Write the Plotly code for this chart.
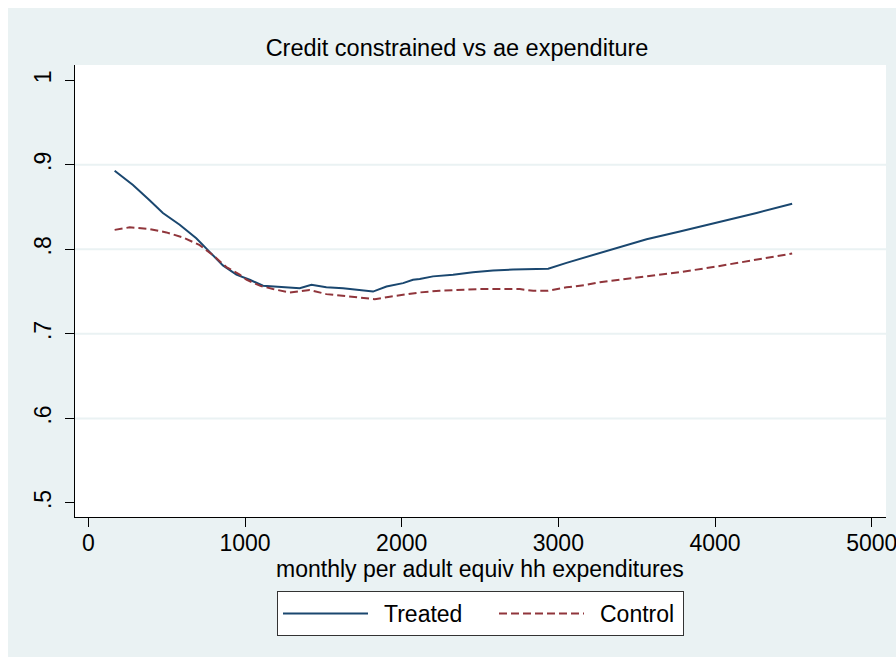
import plotly.graph_objects as go

# Smoothed share of credit-constrained households by monthly adult-equivalent expenditure
treated_x = [168, 285, 391, 476, 583, 689, 774, 859, 945, 1030, 1115, 1180, 1243, 1306,
             1349, 1424, 1519, 1626, 1711, 1817, 1903, 2009, 2072, 2115, 2200, 2328, 2455,
             2583, 2711, 2839, 2935, 3052, 3180, 3265, 3349, 3563, 3775, 4052, 4265, 4492]
treated_y = [0.893, 0.876, 0.858, 0.843, 0.829, 0.813, 0.797, 0.781, 0.770, 0.764, 0.757,
             0.756, 0.755, 0.754, 0.754, 0.758, 0.755, 0.754, 0.752, 0.750, 0.756, 0.760,
             0.764, 0.765, 0.768, 0.770, 0.773, 0.775, 0.776, 0.777, 0.777, 0.784, 0.791,
             0.796, 0.801, 0.812, 0.821, 0.833, 0.843, 0.854]

control_x = [168, 264, 391, 498, 604, 711, 796, 881, 966, 1009, 1094, 1179, 1285, 1413,
             1519, 1626, 1711, 1828, 1924, 2030, 2115, 2243, 2371, 2498, 2626, 2754, 2839,
             2935, 3052, 3180, 3265, 3392, 3563, 3775, 3988, 4201, 4329, 4492]
control_y = [0.823, 0.826, 0.824, 0.820, 0.814, 0.805, 0.793, 0.779, 0.770, 0.764, 0.757,
             0.753, 0.749, 0.752, 0.747, 0.745, 0.743, 0.741, 0.744, 0.747, 0.749, 0.751,
             0.752, 0.753, 0.753, 0.753, 0.751, 0.751, 0.755, 0.758, 0.761, 0.764, 0.768,
             0.773, 0.779, 0.786, 0.790, 0.795]

x_ticks = [0, 1000, 2000, 3000, 4000, 5000]
x_tick_labels = ["0", "1000", "2000", "3000", "4000", "5000"]
y_ticks = [0.5, 0.6, 0.7, 0.8, 0.9, 1.0]
y_tick_labels = [".5", ".6", ".7", ".8", ".9", "1"]
grid_y = [0.6, 0.7, 0.8, 0.9]

FONT = "Liberation Sans, Arial, Helvetica, sans-serif"
BG = "#EAF2F3"
NAVY = "#1A476F"
MAROON = "#90353B"
PAD = "&#160;&#8201;"

fig = go.Figure()
fig.add_trace(go.Scatter(x=treated_x, y=treated_y, mode="lines", name=PAD + "Treated",
                         line=dict(color=NAVY, width=2), legendwidth=116))
fig.add_trace(go.Scatter(x=control_x, y=control_y, mode="lines", name=PAD + "Control",
                         line=dict(color=MAROON, width=2, dash="8px,4px"), legendwidth=89))

W, H = 896, 657
L, R, T, B = 75, 10, 65, 140
pw, ph = W - L - R, H - T - B


def px_x(p):
    return (p - L) / pw


def px_y(p):
    return (H - B - p) / ph


shapes = []
# light horizontal grid lines at interior ticks
for gy in grid_y:
    shapes.append(dict(type="line", xref="paper", yref="y", x0=0, x1=1, y0=gy, y1=gy,
                       line=dict(color=BG, width=2), layer="below"))
# thin white frame along the top and left edges of the page
shapes.append(dict(type="rect", xref="paper", yref="paper",
                   x0=px_x(0), x1=px_x(W), y0=px_y(0), y1=px_y(8),
                   fillcolor="white", line=dict(width=0), layer="below"))
shapes.append(dict(type="rect", xref="paper", yref="paper",
                   x0=px_x(0), x1=px_x(8), y0=px_y(0), y1=px_y(H),
                   fillcolor="white", line=dict(width=0), layer="below"))

fig.update_layout(
    width=W, height=H,
    margin=dict(l=L, r=R, t=T, b=B, pad=0, autoexpand=False),
    paper_bgcolor=BG, plot_bgcolor="white",
    font=dict(family=FONT, size=23, color="black"),
    title=dict(text="Credit constrained vs ae expenditure", xref="container",
               x=457 / W, xanchor="center", yref="container", y=1 - 48 / H,
               yanchor="middle", font=dict(size=23.5, color="black")),
    xaxis=dict(range=[-85, 5091], tickmode="array", tickvals=x_ticks,
               ticktext=x_tick_labels, showgrid=False, zeroline=False,
               showline=True, linecolor="black", linewidth=1, automargin=False,
               ticks="outside", ticklen=9, tickcolor="black", tickwidth=1,
               tickfont=dict(size=23), ticklabeloverflow="allow", ticklabelstandoff=-4),
    yaxis=dict(range=[0.4834, 1.018], tickmode="array", tickvals=y_ticks,
               ticktext=y_tick_labels, tickangle=-90, showgrid=False, zeroline=False,
               showline=True, linecolor="black", linewidth=1, automargin=False,
               ticks="outside", ticklen=9, tickcolor="black", tickwidth=1,
               tickfont=dict(size=23), ticklabelstandoff=5),
    annotations=[dict(text="monthly per adult equiv hh expenditures", xref="paper",
                      yref="paper", x=px_x(480), y=px_y(569), xanchor="center",
                      yanchor="middle", showarrow=False, font=dict(size=23),
                      borderpad=0)],
    legend=dict(orientation="h", x=px_x(277), xanchor="left", y=px_y(591),
                yanchor="top", bgcolor="white", bordercolor="#333333", borderwidth=1,
                font=dict(size=23), itemwidth=85, traceorder="normal"),
    shapes=shapes,
    showlegend=True,
)

fig.write_html("out.html")
